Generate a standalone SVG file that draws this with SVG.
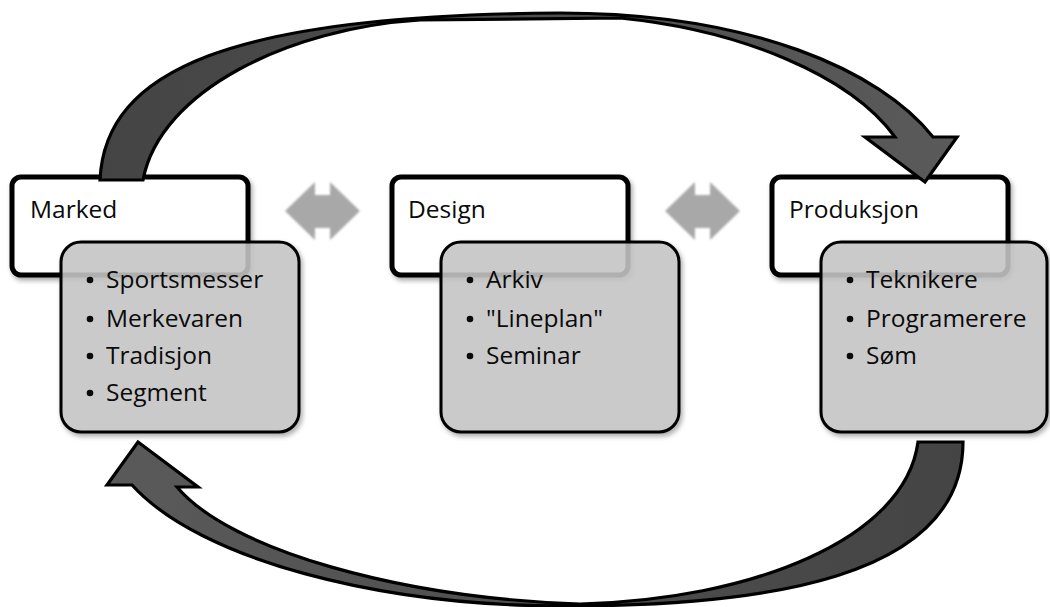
<svg xmlns="http://www.w3.org/2000/svg" width="1050" height="607" viewBox="0 0 1050 607">
<style>
.hd{fill:#fff;stroke:#000;stroke-width:5}
.bd{fill:#c8c8c8;fill-opacity:0.85;stroke:#000;stroke-width:3}
.t{font-family:"Open Sans","Liberation Sans",sans-serif;font-size:24.5px;fill:#0a0a0a}
.cv{stroke:#000;stroke-width:3.2;stroke-linejoin:miter}
.dbl{fill:#a8a8a8}
</style>
<defs>
<filter id="sh" x="-10%" y="-10%" width="130%" height="130%">
<feGaussianBlur in="SourceAlpha" stdDeviation="2.5"/>
<feOffset dx="2" dy="3"/>
<feComponentTransfer><feFuncA type="linear" slope="0.35"/></feComponentTransfer>
<feMerge><feMergeNode/><feMergeNode in="SourceGraphic"/></feMerge>
</filter>
<filter id="soft" x="-10%" y="-10%" width="120%" height="120%">
<feGaussianBlur stdDeviation="1.2"/>
</filter>
<linearGradient id="gTop" x1="0" y1="0" x2="1" y2="0">
<stop offset="0" stop-color="#444"/>
<stop offset="1" stop-color="#5a5a5a"/>
</linearGradient>
<linearGradient id="gBot" x1="0" y1="0" x2="1" y2="0">
<stop offset="0" stop-color="#5a5a5a"/>
<stop offset="1" stop-color="#444"/>
</linearGradient>
<path id="dblShape" d="M285,211 L315,182 L315,195 L330,195 L330,182 L360,211 L330,240 L330,228 L315,228 L315,240 Z"/>
</defs>
<rect width="1050" height="607" fill="#fff"/>

<g id="node-marked">
<rect class="hd" x="12" y="177" width="236" height="98" rx="9" filter="url(#sh)"/>
<text class="t" x="30" y="218">Marked</text>
<rect class="bd" x="61" y="242" width="238" height="190" rx="20" filter="url(#sh)"/>
<circle cx="90" cy="280" r="3.3" fill="#0a0a0a"/><text class="t" x="106" y="288">Sportsmesser</text>
<circle cx="90" cy="319" r="3.3" fill="#0a0a0a"/><text class="t" x="106" y="327">Merkevaren</text>
<circle cx="90" cy="356" r="3.3" fill="#0a0a0a"/><text class="t" x="106" y="364">Tradisjon</text>
<circle cx="90" cy="393" r="3.3" fill="#0a0a0a"/><text class="t" x="106" y="401">Segment</text>
</g>

<g id="node-design">
<rect class="hd" x="392" y="177" width="236" height="98" rx="9" filter="url(#sh)"/>
<text class="t" x="408" y="218">Design</text>
<rect class="bd" x="441" y="242" width="238" height="190" rx="20" filter="url(#sh)"/>
<circle cx="470" cy="280" r="3.3" fill="#0a0a0a"/><text class="t" x="486" y="288">Arkiv</text>
<circle cx="470" cy="319" r="3.3" fill="#0a0a0a"/><text class="t" x="486" y="327">"Lineplan"</text>
<circle cx="470" cy="356" r="3.3" fill="#0a0a0a"/><text class="t" x="486" y="364">Seminar</text>
</g>

<g id="node-produksjon">
<rect class="hd" x="772" y="177" width="236" height="98" rx="9" filter="url(#sh)"/>
<text class="t" x="789" y="218">Produksjon</text>
<rect class="bd" x="821" y="242" width="226" height="190" rx="20" filter="url(#sh)"/>
<circle cx="850" cy="280" r="3.3" fill="#0a0a0a"/><text class="t" x="866" y="288">Teknikere</text>
<circle cx="850" cy="319" r="3.3" fill="#0a0a0a"/><text class="t" x="866" y="327">Programerere</text>
<circle cx="850" cy="356" r="3.3" fill="#0a0a0a"/><text class="t" x="866" y="364">Søm</text>
</g>

<g id="connectors">
<use href="#dblShape" class="dbl" filter="url(#soft)"/>
<use href="#dblShape" class="dbl" filter="url(#soft)" transform="translate(380,0)"/>
<path class="cv" fill="url(#gTop)" d="M100,180 C105,70 230,15 560,13 C750,13 880,70 933,137 L957,137 L925,182 L865,137 L895,137 C850,75 740,30 620,18 L420,20 C290,28 160,90 143,180 Z"/>
<path class="cv" fill="url(#gBot)" d="M918,442 L963,442 C963,580 760,606 565,606 C380,606 200,560 132,485 L107,485 L138,442 L198,487 L177,487 C230,550 400,598 580,604 C750,600 905,540 918,442 Z"/>
</g>
</svg>
